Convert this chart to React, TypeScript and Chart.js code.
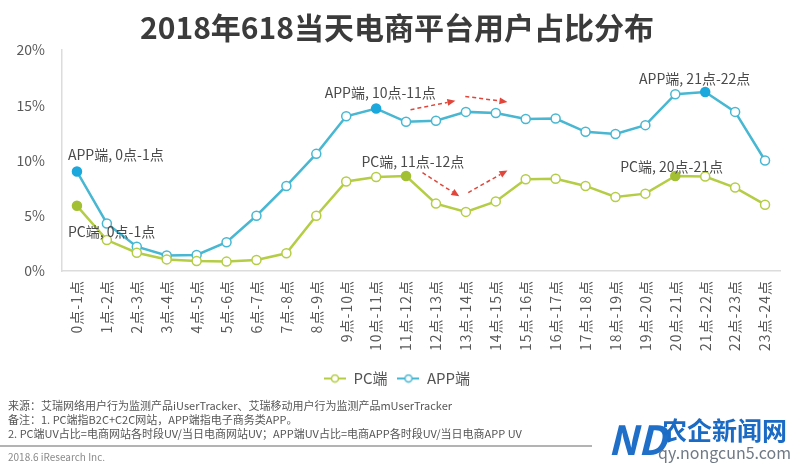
import React, { useEffect, useRef } from "react";
import { Chart, registerables } from "chart.js";

Chart.register(...registerables);

const FONT = '"Noto Sans CJK SC", "Noto Sans", sans-serif';

const titleText = "2018年618当天电商平台用户占比分布";

const categories = [
  "0点-1点", "1点-2点", "2点-3点", "3点-4点", "4点-5点", "5点-6点",
  "6点-7点", "7点-8点", "8点-9点", "9点-10点", "10点-11点", "11点-12点",
  "12点-13点", "13点-14点", "14点-15点", "15点-16点", "16点-17点", "17点-18点",
  "18点-19点", "19点-20点", "20点-21点", "21点-22点", "22点-23点", "23点-24点",
];

const pcValues = [
  5.9, 2.8, 1.65, 1.05, 0.9, 0.85, 1.0, 1.6, 5.0, 8.1, 8.5, 8.6,
  6.1, 5.35, 6.3, 8.3, 8.35, 7.7, 6.7, 7.0, 8.6, 8.55, 7.55, 6.0,
];

const appValues = [
  9.0, 4.3, 2.2, 1.4, 1.45, 2.6, 5.0, 7.7, 10.6, 14.0, 14.7, 13.5,
  13.6, 14.4, 14.3, 13.75, 13.8, 12.6, 12.4, 13.2, 16.0, 16.2, 14.4, 10.0,
];

const seriesNames = ["PC端", "APP端"];
const pcPeaks = [0, 11, 20];
const appPeaks = [0, 10, 21];

const yMin = 0;
const yMax = 20;
const yStep = 5;

// callout labels anchored in data space (category index, percent)
const callouts = [
  { text: "APP端, 0点-1点", x: -0.3, y: 10.5 },
  { text: "PC端, 0点-1点", x: -0.3, y: 3.6 },
  { text: "APP端, 10点-11点", x: 8.28, y: 16.1 },
  { text: "PC端, 11点-12点", x: 9.51, y: 9.9 },
  { text: "APP端, 21点-22点", x: 18.79, y: 17.4 },
  { text: "PC端, 20点-21点", x: 18.16, y: 9.46 },
];

// red dashed trend arrows in data space
const trendArrows = [
  { x1: 11.15, y1: 14.6, x2: 12.65, y2: 15.4 },
  { x1: 12.98, y1: 15.8, x2: 14.39, y2: 15.3 },
  { x1: 11.55, y1: 8.9, x2: 12.78, y2: 6.76 },
  { x1: 13.08, y1: 7.1, x2: 14.39, y2: 9.1 },
];

const notes = [
  "来源：艾瑞网络用户行为监测产品iUserTracker、艾瑞移动用户行为监测产品mUserTracker",
  "备注：1. PC端指B2C+C2C网站，APP端指电子商务类APP。",
  "2. PC端UV占比=电商网站各时段UV/当日电商网站UV；APP端UV占比=电商APP各时段UV/当日电商APP UV",
];
const credit = "2018.6 iResearch Inc.";
const watermarkName = "农企新闻网";
const watermarkUrl = "qy.nongcun5.com";

const PC_LINE = "#b4cd45";
const PC_DOT = "#a3c034";
const APP_LINE = "#47b7d2";
const APP_DOT = "#1ba8dc";

function legendIcon(color: string): HTMLCanvasElement {
  const c = document.createElement("canvas");
  c.width = 22;
  c.height = 10;
  const g = c.getContext("2d")!;
  g.strokeStyle = color;
  g.lineWidth = 2;
  g.beginPath();
  g.moveTo(0, 5);
  g.lineTo(22, 5);
  g.stroke();
  g.beginPath();
  g.arc(11, 5, 3.5, 0, Math.PI * 2);
  g.fillStyle = "#ffffff";
  g.fill();
  g.lineWidth = 1.5;
  g.stroke();
  return c;
}

const overlayPlugin = {
  id: "overlay",
  afterDatasetsDraw(chart: any) {
    const { ctx, scales } = chart;
    const xs = scales.x;
    const ys = scales.y;
    ctx.save();
    ctx.font = `14px ${FONT}`;
    ctx.fillStyle = "#4a4a4a";
    ctx.textBaseline = "middle";
    ctx.textAlign = "left";
    callouts.forEach((c) => {
      ctx.fillText(c.text, xs.getPixelForValue(c.x), ys.getPixelForValue(c.y));
    });

    ctx.strokeStyle = "#e0463a";
    ctx.fillStyle = "#e0463a";
    ctx.lineWidth = 1.5;
    trendArrows.forEach((a) => {
      const x1 = xs.getPixelForValue(a.x1);
      const y1 = ys.getPixelForValue(a.y1);
      const x2 = xs.getPixelForValue(a.x2);
      const y2 = ys.getPixelForValue(a.y2);
      const ang = Math.atan2(y2 - y1, x2 - x1);
      const head = 8;
      const bx = x2 - Math.cos(ang) * head;
      const by = y2 - Math.sin(ang) * head;
      ctx.setLineDash([4, 3]);
      ctx.beginPath();
      ctx.moveTo(x1, y1);
      ctx.lineTo(bx, by);
      ctx.stroke();
      ctx.setLineDash([]);
      ctx.beginPath();
      ctx.moveTo(x2, y2);
      ctx.lineTo(bx + Math.cos(ang + Math.PI / 2) * 3.5, by + Math.sin(ang + Math.PI / 2) * 3.5);
      ctx.lineTo(bx + Math.cos(ang - Math.PI / 2) * 3.5, by + Math.sin(ang - Math.PI / 2) * 3.5);
      ctx.closePath();
      ctx.fill();
    });
    ctx.restore();
    // x tick labels are drawn in a later layer; give them a little tracking
    (ctx as any).letterSpacing = "1px";
  },
  afterDraw(chart: any) {
    const { ctx } = chart;
    (ctx as any).letterSpacing = "0px";
    ctx.save();
    ctx.textAlign = "left";
    ctx.textBaseline = "middle";
    ctx.font = `11px ${FONT}`;
    ctx.fillStyle = "#555555";
    notes.forEach((n, i) => ctx.fillText(n, 8, 406 + i * 14));
    ctx.strokeStyle = "#9a9a9a";
    ctx.lineWidth = 1.5;
    ctx.beginPath();
    ctx.moveTo(0, 446);
    ctx.lineTo(592, 446);
    ctx.stroke();
    ctx.font = `10px ${FONT}`;
    ctx.fillStyle = "#8a8a8a";
    ctx.fillText(credit, 8, 457);

    // watermark
    ctx.font = `italic bold 40px ${FONT}`;
    ctx.fillStyle = "#1f6fc8";
    ctx.fillText("ND", 608, 440);
    ctx.font = `bold 25px ${FONT}`;
    ctx.fillStyle = "#1b6ac4";
    ctx.fillText(watermarkName, 662, 430);
    ctx.font = `16px ${FONT}`;
    ctx.fillStyle = "#6f7a86";
    ctx.fillText(watermarkUrl, 658, 453);
    ctx.restore();
  },
};

export default function App() {
  const ref = useRef<HTMLCanvasElement | null>(null);

  useEffect(() => {
    if (!ref.current) return;
    const icons = [legendIcon(PC_LINE), legendIcon(APP_LINE)];
    const chart = new Chart(ref.current, {
      type: "line",
      data: {
        labels: categories,
        datasets: [
          {
            label: seriesNames[0],
            data: pcValues,
            borderColor: PC_LINE,
            borderWidth: 2.5,
            pointRadius: 4.5,
            pointBorderWidth: 1.5,
            pointBorderColor: (c: any) => (pcPeaks.includes(c.dataIndex) ? PC_DOT : PC_LINE),
            pointBackgroundColor: (c: any) => (pcPeaks.includes(c.dataIndex) ? PC_DOT : "#ffffff"),
            tension: 0,
          },
          {
            label: seriesNames[1],
            data: appValues,
            borderColor: APP_LINE,
            borderWidth: 2.5,
            pointRadius: 4.5,
            pointBorderWidth: 1.5,
            pointBorderColor: (c: any) => (appPeaks.includes(c.dataIndex) ? APP_DOT : APP_LINE),
            pointBackgroundColor: (c: any) => (appPeaks.includes(c.dataIndex) ? APP_DOT : "#ffffff"),
            tension: 0,
          },
        ],
      },
      options: {
        responsive: false,
        animation: false,
        layout: { padding: { left: 14, right: 20, top: 0, bottom: 71 } },
        plugins: {
          title: {
            display: true,
            text: titleText,
            color: "#3b3b3b",
            font: { size: 30, weight: "bold", family: FONT },
            padding: { top: 10, bottom: 4 },
          },
          legend: {
            position: "bottom",
            labels: {
              usePointStyle: true,
              pointStyleWidth: 22,
              color: "#555555",
              font: { size: 15, family: FONT },
              padding: 10,
              generateLabels: (ch: any) =>
                ch.data.datasets.map((d: any, i: number) => ({
                  text: d.label,
                  pointStyle: icons[i],
                  fillStyle: "#fff",
                  strokeStyle: d.borderColor,
                  lineWidth: 0,
                  hidden: false,
                  datasetIndex: i,
                  fontColor: "#555555",
                })),
            },
          },
          tooltip: { enabled: false },
        },
        scales: {
          x: {
            offset: true,
            grid: { display: false, drawTicks: false },
            border: { display: true, color: "#dcdcdc", width: 1.5 },
            ticks: {
              z: 1,
              color: "#595959",
              font: { size: 14, family: FONT },
              maxRotation: 90,
              minRotation: 90,
              autoSkip: false,
              padding: 9,
            },
            afterFit: (s: any) => {
              s.height = 90;
            },
          },
          y: {
            min: yMin,
            max: yMax,
            grid: { display: false, drawTicks: false },
            border: { display: true, color: "#dcdcdc", width: 1.5 },
            ticks: {
              stepSize: yStep,
              color: "#595959",
              font: { size: 14, family: FONT },
              padding: 17,
              callback: (v: any) => `${v}%`,
            },
            afterFit: (s: any) => {
              s.width = 48;
            },
          },
        },
      },
      plugins: [overlayPlugin],
    } as any);
    return () => chart.destroy();
  }, []);

  return (
    <canvas
      ref={ref}
      width={800}
      height={467}
      style={{ position: "fixed", left: 0, top: 0, width: 800, height: 467, background: "#ffffff" }}
    />
  );
}
